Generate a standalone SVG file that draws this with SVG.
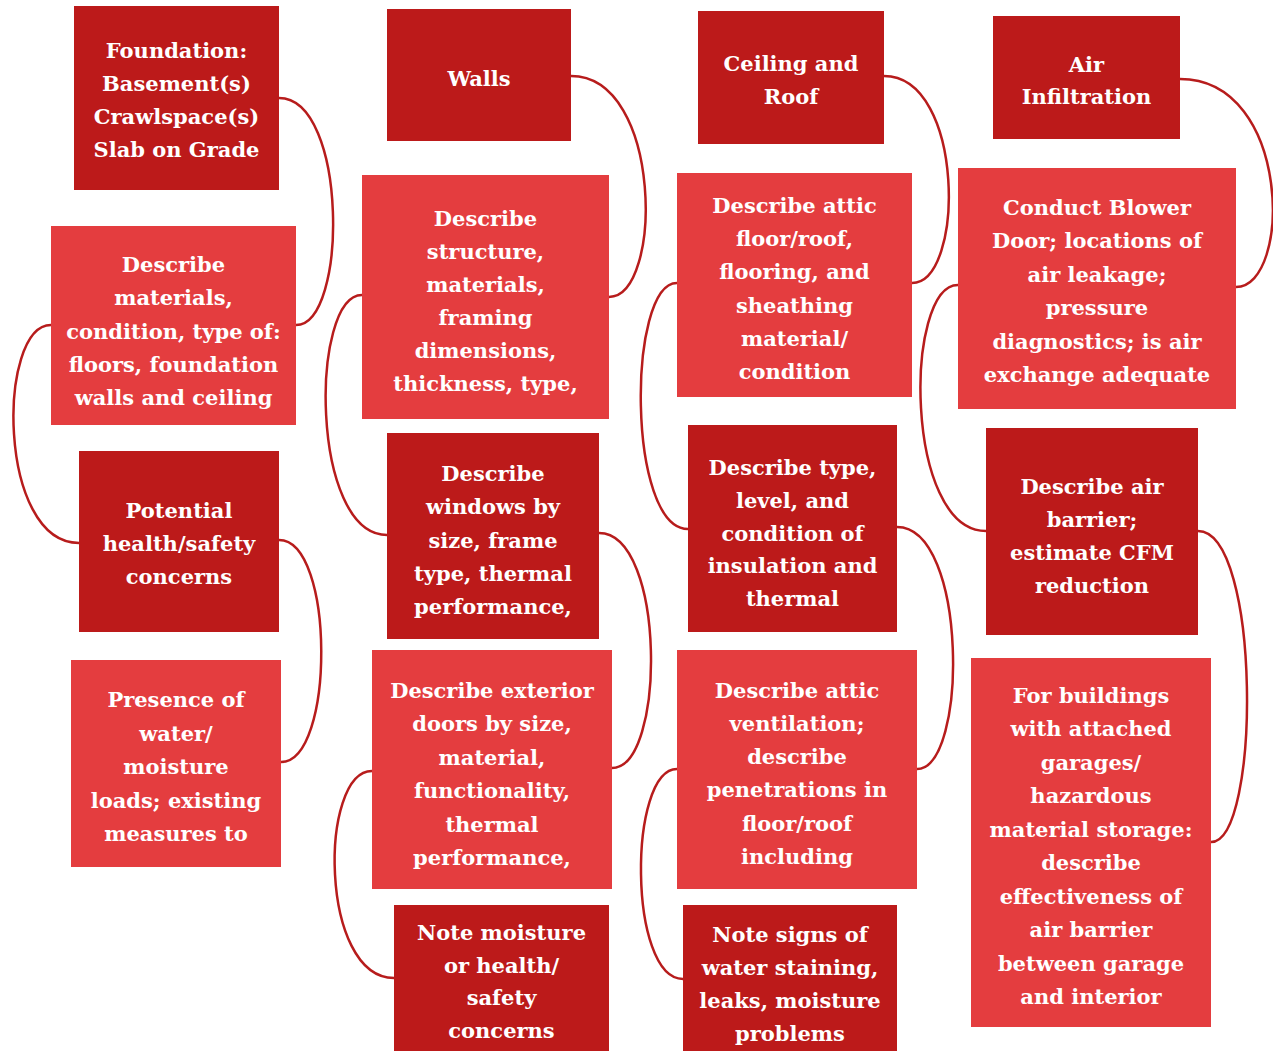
<svg xmlns="http://www.w3.org/2000/svg" width="1273" height="1051" viewBox="0 0 1273 1051">
<style>
.dark{fill:#BC1A1A}
.light{fill:#E43D3F}
.t{font-family:"DejaVu Serif","Liberation Serif",serif;font-weight:bold;font-size:21px;fill:#FFFFFF;text-anchor:middle}
.c{fill:none;stroke:#B71C1C;stroke-width:2.5}
</style>
<rect width="1273" height="1051" fill="#FFFFFF"/>
<g id="connectors">
<path class="c" d="M279,98 C348,98 348,325 296,325"/>
<path class="c" d="M51,325 C-3,325 -3,543 79,543"/>
<path class="c" d="M279,540 C335,540 335,762 281,762"/>
<path class="c" d="M571,76 C663,76 663,297 609,297"/>
<path class="c" d="M362,295 C310,295 310,535 387,535"/>
<path class="c" d="M599,533 C666,533 666,768 612,768"/>
<path class="c" d="M372,771 C319,771 319,978 394,978"/>
<path class="c" d="M884,76 C965,76 965,283 912,283"/>
<path class="c" d="M677,283 C627,283 627,529 688,529"/>
<path class="c" d="M897,527 C968,527 968,769 917,769"/>
<path class="c" d="M677,769 C628,769 628,979 683,979"/>
<path class="c" d="M1180,79 C1292,79 1292,287 1236,287"/>
<path class="c" d="M958,285 C904,285 904,531 986,531"/>
<path class="c" d="M1198,531 C1261,531 1261,842 1211,842"/>
</g>
<g id="n-foundation">
<rect class="dark" x="74" y="6" width="205" height="184"/>
<text class="t" x="176.5" y="58">Foundation:</text>
<text class="t" x="176.5" y="91">Basement(s)</text>
<text class="t" x="176.5" y="124">Crawlspace(s)</text>
<text class="t" x="176.5" y="157">Slab on Grade</text>
</g>
<g id="n-describe-materials">
<rect class="light" x="51" y="226" width="245" height="199"/>
<text class="t" x="173.5" y="272">Describe</text>
<text class="t" x="173.5" y="305">materials,</text>
<text class="t" x="173.5" y="338.5">condition, type of:</text>
<text class="t" x="173.5" y="371.5">floors, foundation</text>
<text class="t" x="173.5" y="405">walls and ceiling</text>
</g>
<g id="n-potential">
<rect class="dark" x="79" y="451" width="200" height="181"/>
<text class="t" x="179" y="518">Potential</text>
<text class="t" x="179" y="551">health/safety</text>
<text class="t" x="179" y="584">concerns</text>
</g>
<g id="n-presence">
<rect class="light" x="71" y="660" width="210" height="207"/>
<text class="t" x="176" y="707">Presence of</text>
<text class="t" x="176" y="740.5">water/</text>
<text class="t" x="176" y="774">moisture</text>
<text class="t" x="176" y="807.5">loads; existing</text>
<text class="t" x="176" y="841">measures to</text>
</g>
<g id="n-walls">
<rect class="dark" x="387" y="9" width="184" height="132"/>
<text class="t" x="479" y="86">Walls</text>
</g>
<g id="n-structure">
<rect class="light" x="362" y="175" width="247" height="244"/>
<text class="t" x="485.5" y="226">Describe</text>
<text class="t" x="485.5" y="259">structure,</text>
<text class="t" x="485.5" y="292">materials,</text>
<text class="t" x="485.5" y="325">framing</text>
<text class="t" x="485.5" y="358">dimensions,</text>
<text class="t" x="485.5" y="391">thickness, type,</text>
</g>
<g id="n-windows">
<rect class="dark" x="387" y="433" width="212" height="206"/>
<text class="t" x="493" y="481">Describe</text>
<text class="t" x="493" y="514">windows by</text>
<text class="t" x="493" y="547.5">size, frame</text>
<text class="t" x="493" y="581">type, thermal</text>
<text class="t" x="493" y="614">performance,</text>
</g>
<g id="n-doors">
<rect class="light" x="372" y="650" width="240" height="239"/>
<text class="t" x="492" y="698">Describe exterior</text>
<text class="t" x="492" y="731.4">doors by size,</text>
<text class="t" x="492" y="764.8">material,</text>
<text class="t" x="492" y="798.2">functionality,</text>
<text class="t" x="492" y="831.6">thermal</text>
<text class="t" x="492" y="865">performance,</text>
</g>
<g id="n-note-moisture">
<rect class="dark" x="394" y="905" width="215" height="150"/>
<text class="t" x="501.5" y="940">Note moisture</text>
<text class="t" x="501.5" y="972.7">or health/</text>
<text class="t" x="501.5" y="1005.3">safety</text>
<text class="t" x="501.5" y="1038">concerns</text>
</g>
<g id="n-ceiling">
<rect class="dark" x="698" y="11" width="186" height="133"/>
<text class="t" x="791" y="71">Ceiling and</text>
<text class="t" x="791" y="104">Roof</text>
</g>
<g id="n-attic-floor">
<rect class="light" x="677" y="173" width="235" height="224"/>
<text class="t" x="794.5" y="213">Describe attic</text>
<text class="t" x="794.5" y="246.2">floor/roof,</text>
<text class="t" x="794.5" y="279.4">flooring, and</text>
<text class="t" x="794.5" y="312.6">sheathing</text>
<text class="t" x="794.5" y="345.8">material/</text>
<text class="t" x="794.5" y="379">condition</text>
</g>
<g id="n-insulation">
<rect class="dark" x="688" y="425" width="209" height="207"/>
<text class="t" x="792.5" y="475">Describe type,</text>
<text class="t" x="792.5" y="507.75">level, and</text>
<text class="t" x="792.5" y="540.5">condition of</text>
<text class="t" x="792.5" y="573.25">insulation and</text>
<text class="t" x="792.5" y="606">thermal</text>
</g>
<g id="n-ventilation">
<rect class="light" x="677" y="650" width="240" height="239"/>
<text class="t" x="797" y="697.5">Describe attic</text>
<text class="t" x="797" y="730.8">ventilation;</text>
<text class="t" x="797" y="764">describe</text>
<text class="t" x="797" y="797.3">penetrations in</text>
<text class="t" x="797" y="830.6">floor/roof</text>
<text class="t" x="797" y="864">including</text>
</g>
<g id="n-note-water">
<rect class="dark" x="683" y="905" width="214" height="150"/>
<text class="t" x="790" y="942">Note signs of</text>
<text class="t" x="790" y="975">water staining,</text>
<text class="t" x="790" y="1008">leaks, moisture</text>
<text class="t" x="790" y="1041">problems</text>
</g>
<g id="n-air">
<rect class="dark" x="993" y="16" width="187" height="123"/>
<text class="t" x="1086.5" y="72">Air</text>
<text class="t" x="1086.5" y="104">Infiltration</text>
</g>
<g id="n-blower">
<rect class="light" x="958" y="168" width="278" height="241"/>
<text class="t" x="1097" y="215">Conduct Blower</text>
<text class="t" x="1097" y="248.4">Door; locations of</text>
<text class="t" x="1097" y="281.8">air leakage;</text>
<text class="t" x="1097" y="315.2">pressure</text>
<text class="t" x="1097" y="348.6">diagnostics; is air</text>
<text class="t" x="1097" y="382">exchange adequate</text>
</g>
<g id="n-barrier">
<rect class="dark" x="986" y="428" width="212" height="207"/>
<text class="t" x="1092" y="494">Describe air</text>
<text class="t" x="1092" y="526.8">barrier;</text>
<text class="t" x="1092" y="559.7">estimate CFM</text>
<text class="t" x="1092" y="592.5">reduction</text>
</g>
<g id="n-garage">
<rect class="light" x="971" y="658" width="240" height="369"/>
<text class="t" x="1091" y="703">For buildings</text>
<text class="t" x="1091" y="736.4">with attached</text>
<text class="t" x="1091" y="769.9">garages/</text>
<text class="t" x="1091" y="803.3">hazardous</text>
<text class="t" x="1091" y="836.8">material storage:</text>
<text class="t" x="1091" y="870.2">describe</text>
<text class="t" x="1091" y="903.7">effectiveness of</text>
<text class="t" x="1091" y="937.1">air barrier</text>
<text class="t" x="1091" y="970.6">between garage</text>
<text class="t" x="1091" y="1004">and interior</text>
</g>
</svg>
